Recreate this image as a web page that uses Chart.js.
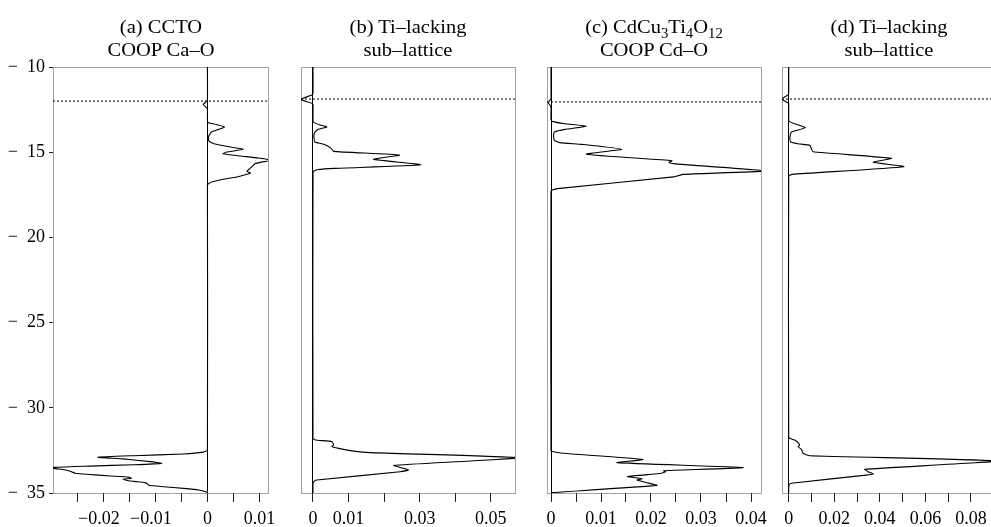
<!DOCTYPE html>
<html><head><meta charset="utf-8">
<script src="https://cdn.jsdelivr.net/npm/chart.js@4.4.0/dist/chart.umd.min.js"></script>
<style>
html,body{margin:0;padding:0;background:#fff;overflow:hidden;width:991px;height:527px;position:relative;}
canvas{position:absolute;top:0;}
.t{position:absolute;font-family:'Liberation Serif','Times New Roman',serif;font-size:19px;color:#000;text-align:center;white-space:nowrap;line-height:23.2px;width:240px;top:14.6px;transform:scaleX(1.08);}
.t sub{font-size:0.72em;vertical-align:-0.38em;line-height:0;}
</style></head>
<body>
<canvas id="ca"></canvas><canvas id="cb"></canvas><canvas id="cc"></canvas><canvas id="cd"></canvas>
<div class="t" style="left:40.5px">(a) CCTO<br>COOP Ca–O</div>
<div class="t" style="left:288px">(b) Ti–lacking<br>sub–lattice</div>
<div class="t" style="left:534px">(c) CdCu<sub>3</sub>Ti<sub>4</sub>O<sub>12</sub><br>COOP Cd–O</div>
<div class="t" style="left:769px">(d) Ti–lacking<br>sub–lattice</div>
<script>
// ---- Energy axis ----
const energyTicks = [-35, -30, -25, -20, -15, -10];
const yTickLabels = ['\u2212\u200235', '\u2212\u200230', '\u2212\u200225', '\u2212\u200220', '\u2212\u200215', '\u2212\u200210'];

// ---- Fermi levels (dotted lines) ----
const fermi = [-12.0, -11.88, -12.05, -11.88];

// ---- Panel (a) CCTO, COOP Ca-O ----
const eA = [-35, -34.94, -34.82, -34.73, -34.63, -34.55, -34.47, -34.39, -34.33, -34.28, -34.19, -34.14, -34.07, -34.0, -33.9, -33.84, -33.79, -33.69, -33.59, -33.51, -33.42, -33.34, -33.26, -33.16, -33.0, -32.9, -32.81, -32.71, -32.6, -32.48, -16.92, -16.85, -16.75, -16.59, -16.46, -16.32, -16.22, -16.12, -16.0, -15.87, -15.67, -15.58, -15.48, -15.34, -15.22, -15.09, -14.99, -14.83, -14.69, -14.5, -14.35, -14.11, -13.97, -13.81, -13.66, -13.52, -13.38, -13.27, -13.15, -12.45, -12.35, -12.2, -12.05, -11.95, -10];
const cA = [0, -0.0002, -0.0017, -0.0046, -0.0085, -0.0113, -0.0115, -0.0120, -0.0136, -0.0152, -0.0162, -0.0146, -0.0152, -0.0187, -0.0232, -0.0254, -0.0258, -0.0267, -0.0287, -0.0305, -0.0226, -0.0142, -0.0088, -0.0110, -0.0162, -0.0211, -0.0142, -0.0046, -0.0008, 0, 0, 0.0002, 0.0008, 0.0031, 0.0056, 0.0073, 0.0083, 0.0076, 0.0080, 0.0085, 0.0092, 0.0104, 0.0122, 0.0098, 0.0063, 0.0030, 0.0037, 0.0069, 0.0044, 0.0012, 0.0003, 0.0002, 0.0004, 0.0008, 0.0022, 0.0033, 0.0018, 0.0002, 0, 0, -0.0003, -0.0008, -0.0003, 0, 0];

// ---- Panel (b) Ti-lacking sub-lattice ----
const eB = [-35, -34.43, -34.3, -34.24, -33.75, -33.65, -33.5, -33.38, -32.93, -32.63, -32.54, -32.38, -32.28, -32.18, -31.99, -31.89, -31.79, -16.2, -16.12, -16.03, -15.95, -15.74, -15.42, -15.17, -14.95, -14.79, -14.56, -14.4, -14.2, -13.95, -13.81, -13.66, -13.52, -13.4, -13.25, -13.15, -12.2, -12.13, -11.9, -11.64, -11.55, -10];
const cB = [0, 0, 0.0004, 0.0011, 0.0245, 0.0269, 0.0245, 0.0227, 0.0580, 0.0161, 0.0114, 0.0072, 0.0053, 0.0058, 0.0053, 0.0007, 0, 0, 0.0002, 0.0012, 0.0060, 0.0303, 0.0170, 0.0243, 0.0058, 0.0052, 0.0034, 0.0005, 0.0003, 0.0003, 0.0006, 0.0015, 0.0039, 0.0020, 0.0002, 0, 0, -0.0003, -0.0035, -0.0003, 0, 0];

// ---- Panel (c) CdCu3Ti4O12, COOP Cd-O ----
const eC = [-35, -34.98, -34.55, -34.42, -34.24, -34.16, -34.04, -33.84, -33.75, -33.69, -33.51, -33.22, -33.03, -32.67, -32.58, -32.52, -17.3, -17.22, -17.14, -16.45, -16.4, -16.3, -16.1, -15.7, -15.6, -15.5, -15.12, -14.83, -14.54, -14.44, -14.3, -14.0, -13.81, -13.66, -13.48, -13.33, -13.19, -13.1, -12.35, -12.2, -12.1, -11.95, -11.85, -10];
const cC = [0, 0.0002, 0.0212, 0.0195, 0.0172, 0.0182, 0.0153, 0.0221, 0.0229, 0.0225, 0.0384, 0.0132, 0.0184, 0.0025, 0.0005, 0, 0, 0.0003, 0.0013, 0.0245, 0.0252, 0.0265, 0.0430, 0.0255, 0.0236, 0.0242, 0.0071, 0.0141, 0.0062, 0.0018, 0.0007, 0.0005, 0.0007, 0.0028, 0.0071, 0.0028, 0.0002, 0, 0, -0.0003, -0.0006, -0.0002, 0, 0];

// ---- Panel (d) Ti-lacking sub-lattice ----
const eD = [-35, -34.63, -34.5, -34.43, -33.95, -33.88, -33.75, -33.61, -33.12, -32.81, -32.67, -32.44, -32.28, -32.18, -32.05, -31.89, -31.79, -31.7, -16.4, -16.3, -15.85, -15.59, -15.36, -14.97, -14.81, -14.6, -14.5, -14.4, -14.2, -14.0, -13.81, -13.56, -13.33, -13.19, -13.1, -12.15, -12.1, -11.88, -11.64, -11.55, -10];
const cD = [0, 0, 0.0003, 0.0012, 0.0340, 0.0371, 0.0348, 0.0334, 0.0920, 0.0092, 0.0063, 0.0056, 0.0041, 0.0048, 0.0041, 0.0026, 0.0004, 0, 0, 0.0015, 0.0505, 0.0371, 0.0451, 0.0107, 0.0100, 0.0093, 0.0040, 0.0008, 0.0005, 0.0007, 0.0012, 0.0073, 0.0025, 0.0002, 0, 0, -0.0003, -0.0031, -0.0003, 0, 0];

// ---- COOP axis ranges and ticks ----
const rangeA = [-0.0297, 0.01165];
const rangeB = [-0.00337, 0.0568];
const rangeC = [-0.0008, 0.042];
const rangeD = [-0.00294, 0.0910];
const ticksA = [-0.025, -0.02, -0.015, -0.01, -0.005, 0, 0.005, 0.01];
const labelsA = ['', '\u22120.02\u2002', '', '\u22120.01\u2002', '', '0', '', '0.01'];
const ticksB = [0, 0.01, 0.02, 0.03, 0.04, 0.05];
const labelsB = ['0', '0.01', '', '0.03', '', '0.05'];
const ticksC = [0, 0.005, 0.01, 0.015, 0.02, 0.025, 0.03, 0.035, 0.04];
const labelsC = ['0', '', '0.01', '', '0.02', '', '0.03', '', '0.04'];
const ticksD = [0, 0.01, 0.02, 0.03, 0.04, 0.05, 0.06, 0.07, 0.08];
const labelsD = ['0', '', '0.02', '', '0.04', '', '0.06', '', '0.08'];

Chart.defaults.font.family = "'Liberation Serif', 'Times New Roman', serif";
Chart.defaults.color = '#000';

const framePlugin = {
  id: 'frame',
  beforeDatasetsDraw(chart) {
    const {ctx, chartArea: a} = chart;
    ctx.save();
    ctx.strokeStyle = '#444';
    ctx.lineWidth = 1;
    ctx.setLineDash([1, 1]);
    ctx.strokeRect(Math.round(a.left) + 0.5, Math.round(a.top) + 0.5, Math.round(a.right - a.left), Math.round(a.bottom - a.top));
    ctx.restore();
  }
};

function makePanel(id, frameLeft, frameWidth, showY, energy, coop, xr, ticks, labels, ef) {
  const cv = document.getElementById(id);
  const padL = showY ? 0 : 20;
  const yW = showY ? 53 : 0;
  const left = frameLeft - padL - yW;
  const width = padL + yW + frameWidth + 20;
  cv.width = width; cv.height = 527;
  cv.style.left = left + 'px'; cv.style.width = width + 'px'; cv.style.height = '527px';
  new Chart(cv, {
    type: 'scatter',
    data: {
      datasets: [
        { data: energy.map((e, i) => ({x: coop[i], y: e})), showLine: true, borderColor: '#000', borderWidth: 1.1, pointRadius: 0, tension: 0.15 },
        { data: [{x: xr[0], y: ef}, {x: xr[1], y: ef}], showLine: true, borderColor: '#000', borderWidth: 1, borderDash: [2, 2], pointRadius: 0 }
      ]
    },
    options: {
      responsive: false, animation: false, devicePixelRatio: 1, events: [],
      layout: { padding: { left: padL, right: 20, top: 67, bottom: 0 } },
      plugins: { legend: { display: false }, tooltip: { enabled: false }, title: { display: false } },
      scales: {
        x: {
          type: 'linear', position: 'bottom', min: xr[0], max: xr[1],
          afterBuildTicks: s => { s.ticks = ticks.map(v => ({value: v})); },
          afterFit: s => { s.height = 34; },
          ticks: { autoSkip: false, maxRotation: 0, minRotation: 0, padding: 6, color: '#000', font: { size: 18 }, callback: (v, i) => labels[i] },
          grid: { drawOnChartArea: true, drawTicks: true, tickLength: 9, tickColor: '#222', lineWidth: 1,
                  color: c => (c.tick && c.tick.value === 0) ? '#000' : 'rgba(0,0,0,0)' },
          border: { display: false }
        },
        y: {
          type: 'linear', min: -35, max: -10, display: showY,
          afterBuildTicks: s => { s.ticks = energyTicks.map(v => ({value: v})); },
          afterFit: s => { if (showY) s.width = 53; },
          ticks: { autoSkip: false, padding: 4, color: '#000', font: { size: 18 }, callback: (v, i) => yTickLabels[i] },
          grid: { drawOnChartArea: false, drawTicks: true, tickLength: 4, tickColor: '#222' },
          border: { display: false }
        }
      }
    },
    plugins: [framePlugin]
  });
}

makePanel('ca', 53, 215, true, eA, cA, rangeA, ticksA, labelsA, fermi[0]);
makePanel('cb', 301, 214, false, eB, cB, rangeB, ticksB, labelsB, fermi[1]);
makePanel('cc', 547, 214, false, eC, cC, rangeC, ticksC, labelsC, fermi[2]);
makePanel('cd', 782, 214, false, eD, cD, rangeD, ticksD, labelsD, fermi[3]);
</script>
</body></html>
